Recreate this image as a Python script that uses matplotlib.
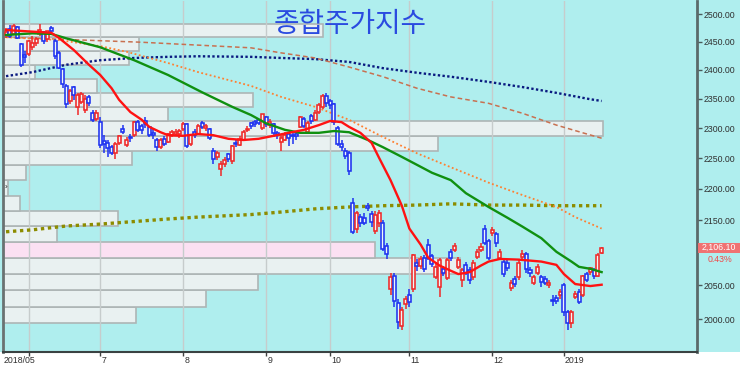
import numpy as np
import matplotlib
matplotlib.use("Agg")
import matplotlib.pyplot as plt
import matplotlib.transforms as mtransforms
from matplotlib.patches import Rectangle
from matplotlib.ticker import FixedLocator, NullLocator, NullFormatter

plt.rcParams['font.family'] = ['Liberation Sans', 'Noto Sans CJK KR', 'DejaVu Sans']

# ---------------- data ----------------
title = "종합주가지수"

opens = [2462, 2472, 2464, 2476, 2446, 2427, 2428, 2440, 2447, 2463,
         2468, 2455, 2474, 2452, 2430, 2402, 2372, 2346, 2370, 2335,
         2345, 2330, 2352, 2325, 2315, 2310, 2278, 2275, 2268, 2258,
         2275, 2298, 2272, 2285, 2288, 2310, 2303, 2312, 2302, 2292,
         2280, 2268, 2282, 2277, 2288, 2290, 2290, 2298, 2306, 2273,
         2294, 2290, 2308, 2300, 2298, 2262, 2252, 2232, 2240, 2256,
         2245, 2275, 2272, 2280, 2296, 2308, 2310, 2313, 2300, 2318,
         2305, 2306, 2292, 2276, 2280, 2290, 2288, 2290, 2302, 2315,
         2294, 2320, 2314, 2327, 2335, 2354, 2346, 2340, 2300, 2273,
         2262, 2258, 2178, 2137, 2155, 2154, 2172, 2160, 2133, 2145,
         2146, 2110, 2045, 2064, 2024, 1990, 2022, 2035, 2045, 2084,
         2080, 2092, 2112, 2094, 2063, 2048, 2074, 2061, 2101, 2104,
         2078, 2058, 2081, 2073, 2062, 2093, 2103, 2136, 2118, 2130,
         2128, 2091, 2086, 2084, 2046, 2060, 2062, 2093, 2098, 2073,
         2053, 2069, 2062, 2060, 2051, 2028, 2031, 2036, 2051, 2010,
         1994, 2033, 2040, 2035, 2067, 2070, 2073, 2064, 2099]
highs = [2475, 2480, 2482, 2479, 2448, 2433, 2453, 2460, 2458, 2482,
         2470, 2470, 2478, 2454, 2433, 2404, 2375, 2366, 2372, 2360,
         2362, 2356, 2356, 2330, 2330, 2318, 2288, 2280, 2272, 2276,
         2288, 2305, 2285, 2290, 2312, 2313, 2306, 2318, 2304, 2298,
         2283, 2283, 2286, 2292, 2297, 2298, 2299, 2310, 2308, 2290,
         2298, 2306, 2312, 2307, 2300, 2266, 2262, 2245, 2252, 2258,
         2272, 2280, 2286, 2296, 2303, 2310, 2313, 2316, 2324, 2320,
         2315, 2308, 2295, 2290, 2293, 2293, 2291, 2295, 2320, 2318,
         2312, 2324, 2330, 2342, 2358, 2360, 2350, 2342, 2303, 2280,
         2266, 2262, 2185, 2165, 2160, 2162, 2178, 2164, 2164, 2166,
         2150, 2114, 2068, 2068, 2030, 2018, 2034, 2045, 2098, 2090,
         2095, 2096, 2120, 2098, 2085, 2092, 2080, 2092, 2106, 2114,
         2093, 2076, 2085, 2077, 2088, 2106, 2114, 2142, 2120, 2140,
         2132, 2106, 2090, 2088, 2058, 2064, 2090, 2104, 2100, 2078,
         2066, 2082, 2066, 2064, 2058, 2035, 2036, 2044, 2053, 2014,
         2014, 2042, 2044, 2066, 2070, 2078, 2076, 2099, 2109]
lows = [2457, 2456, 2462, 2454, 2405, 2412, 2424, 2436, 2443, 2460,
        2446, 2450, 2465, 2420, 2401, 2369, 2334, 2340, 2348, 2322,
        2340, 2325, 2338, 2310, 2312, 2266, 2258, 2252, 2255, 2248,
        2272, 2290, 2268, 2276, 2285, 2293, 2290, 2300, 2285, 2282,
        2262, 2265, 2270, 2275, 2285, 2286, 2284, 2295, 2266, 2270,
        2283, 2288, 2298, 2295, 2280, 2240, 2247, 2220, 2236, 2243,
        2240, 2268, 2270, 2278, 2293, 2298, 2302, 2305, 2296, 2302,
        2300, 2285, 2282, 2262, 2278, 2270, 2274, 2280, 2300, 2300,
        2290, 2306, 2312, 2324, 2332, 2336, 2333, 2305, 2270, 2262,
        2248, 2222, 2128, 2130, 2140, 2142, 2165, 2140, 2128, 2140,
        2102, 2090, 2036, 2018, 1986, 1984, 2015, 2018, 2040, 2072,
        2075, 2070, 2088, 2078, 2060, 2032, 2064, 2058, 2087, 2100,
        2074, 2047, 2065, 2052, 2058, 2090, 2100, 2112, 2088, 2126,
        2108, 2088, 2063, 2072, 2042, 2048, 2058, 2088, 2068, 2062,
        2050, 2066, 2048, 2050, 2046, 2020, 2022, 2030, 2005, 1984,
        1987, 2030, 2022, 2032, 2055, 2066, 2060, 2062, 2097]
closes = [2467, 2461, 2479, 2457, 2409, 2423, 2451, 2447, 2454, 2471,
          2452, 2469, 2469, 2424, 2404, 2376, 2340, 2363, 2357, 2357,
          2358, 2350, 2342, 2314, 2326, 2272, 2273, 2266, 2258, 2273,
          2286, 2294, 2280, 2284, 2311, 2296, 2297, 2306, 2289, 2289,
          2269, 2280, 2273, 2290, 2294, 2293, 2295, 2307, 2270, 2288,
          2288, 2304, 2302, 2304, 2283, 2249, 2259, 2241, 2247, 2248,
          2270, 2273, 2282, 2294, 2299, 2303, 2307, 2309, 2323, 2307,
          2311, 2291, 2288, 2284, 2289, 2283, 2286, 2286, 2318, 2303,
          2309, 2312, 2325, 2339, 2355, 2343, 2339, 2310, 2274, 2268,
          2254, 2229, 2132, 2161, 2146, 2146, 2170, 2148, 2158, 2162,
          2106, 2098, 2063, 2027, 1996, 2014, 2030, 2025, 2096, 2080,
          2090, 2075, 2092, 2083, 2078, 2088, 2069, 2088, 2091, 2110,
          2089, 2073, 2069, 2058, 2084, 2101, 2109, 2115, 2092, 2135,
          2115, 2101, 2067, 2076, 2053, 2052, 2084, 2098, 2074, 2069,
          2062, 2078, 2055, 2053, 2054, 2027, 2027, 2040, 2010, 1994,
          2010, 2037, 2025, 2064, 2058, 2076, 2064, 2096, 2106.10]

change_pct = "0.43%"

month_tick_idx = [6, 25, 47, 69, 86, 107, 129, 148]
month_tick_labels = ['2018/05', '7', '8', '9', '10', '11', '12', '2019']

price_ticks = [2000, 2050, 2150, 2200, 2250, 2300, 2350, 2400, 2450, 2500]

ma_red_idx = [0, 12, 14, 18, 22, 25, 28, 30, 33, 36, 38, 41, 43, 47, 51, 55, 59, 63, 67, 71,
              75, 79, 83, 86, 89, 91, 94, 97, 99, 102, 105, 107, 110, 112, 115, 118, 120,
              123, 126, 128, 131, 136, 142, 146, 148, 151, 155, 158]
ma_red_val = [2471, 2466, 2457, 2435, 2409, 2391, 2368, 2348, 2327, 2314, 2302, 2293, 2288,
              2287, 2290, 2288, 2282, 2280, 2282, 2287, 2292, 2297, 2305, 2312, 2310, 2302,
              2292, 2275, 2250, 2214, 2173, 2137, 2112, 2092, 2080, 2072, 2067, 2070, 2080,
              2086, 2090, 2089, 2086, 2081, 2067, 2052, 2049, 2051]
ma_green_idx = [0, 7, 12, 16, 25, 34, 43, 52, 60, 65, 69, 74, 78, 83, 87, 91, 96, 100, 105,
                109, 113, 118, 122, 128, 133, 137, 142, 146, 150, 152, 155, 158]
ma_green_val = [2462, 2465, 2464, 2456, 2440, 2417, 2391, 2361, 2336, 2322, 2308, 2297, 2292,
                2292, 2295, 2293, 2280, 2268, 2252, 2239, 2226, 2214, 2193, 2171, 2154, 2140,
                2122, 2101, 2086, 2078, 2075, 2070]
ma_orange_idx = [0, 14, 25, 32, 43, 51, 65, 73, 82, 91, 100, 109, 118, 128, 137, 146, 151, 158]
ma_orange_val = [2458, 2453, 2442, 2432, 2412, 2396, 2372, 2353, 2336, 2314, 2285, 2258, 2235,
                 2210, 2190, 2171, 2155, 2137]
ma_brown_idx = [0, 36, 65, 73, 82, 91, 100, 109, 118, 128, 137, 146, 153, 158]
ma_brown_val = [2458, 2449, 2439, 2430, 2421, 2405, 2388, 2368, 2353, 2342, 2325, 2305, 2292, 2283]
ma_navy_idx = [0, 7, 16, 25, 34, 43, 51, 65, 73, 82, 91, 100, 109, 118, 128, 137, 146, 155, 158]
ma_navy_val = [2389, 2396, 2409, 2417, 2421, 2423, 2424, 2423, 2421, 2419, 2414, 2403, 2395,
               2388, 2379, 2370, 2360, 2349, 2346]
ma_olive_idx = [0, 7, 16, 25, 34, 43, 51, 65, 73, 82, 91, 100, 109, 118, 128, 137, 146, 158]
ma_olive_val = [2132, 2135, 2141, 2144, 2148, 2152, 2155, 2159, 2163, 2168, 2171, 2173, 2174,
                2176, 2174, 2174, 2173, 2173]

# volume-by-price profile (bottom bin to top bin), relative units
profile_low, profile_high = 1994.0, 2482.0
profile_volume = [133, 203, 255, 457, 372, 54, 115, 17, 5, 23,
                  129, 435, 600, 165, 250, 94, 32, 126, 136, 320]

# ---------------- figure ----------------
W, H = 740, 369
BG = '#AFEEEE'
fig = plt.figure(figsize=(W / 100, H / 100), dpi=100)
fig.patch.set_facecolor(BG)
fig.patches.append(Rectangle((0, 0), 1, 17 / H, transform=fig.transFigure,
                             fc='white', ec='none', zorder=-10))
ax = fig.add_axes([3 / W, 17 / H, 694 / W, 351 / H])
ax.set_facecolor(BG)
ax.set_yscale('log')
ax.set_xlim(-0.8, 183.3)
ax.set_ylim(1952.5, 2524)

# volume profile
trans = mtransforms.blended_transform_factory(ax.transAxes, ax.transData)
edges = np.linspace(profile_low, profile_high, len(profile_volume) + 1)
vmax = max(profile_volume)
for i, v in enumerate(profile_volume):
    frac = v / vmax * 0.864
    is_cur = edges[i] <= closes[-1] < edges[i + 1]
    fc = '#FBE0F2' if is_cur else '#E9F1F1'
    ax.add_patch(Rectangle((0, edges[i]), frac, edges[i + 1] - edges[i], transform=trans,
                           fc=fc, ec='#ADB5B5', lw=1.2, zorder=1))
ax.text(0.003, (edges[8] + edges[9]) / 2, '›', transform=trans, fontsize=6,
        va='center', ha='left', color='#202020', zorder=2)

# grid
for t in month_tick_idx:
    ax.axvline(t, color='#C6CCCC', lw=1, zorder=1.5)

# long moving averages
ax.plot(ma_olive_idx, ma_olive_val, color='#8C8C00', lw=2.4, ls=(0, (1, 1.1)), zorder=3)
ax.plot(ma_navy_idx, ma_navy_val, color='#0A1A80', lw=1.7, ls=(0, (1, 1)), zorder=3)
ax.plot(ma_brown_idx, ma_brown_val, color='#C87050', lw=1.1, ls=(0, (3, 2)), zorder=3)
ax.plot(ma_orange_idx, ma_orange_val, color='#FF7F30', lw=1.3, ls=(0, (1, 1.4)), zorder=3)

# candles
x = np.arange(len(closes))
o = np.array(opens, float)
h = np.array(highs, float)
l = np.array(lows, float)
c = np.array(closes, float)
up = c >= o
col = np.where(up, '#F02828', '#1E32F0')
ax.vlines(x, l, h, colors=col, lw=1.1, zorder=4)
body_h = np.maximum(np.abs(c - o), 0.6)
ax.bar(x, body_h, bottom=np.minimum(o, c), width=0.8, color='#EEF6F6',
       edgecolor=col, linewidth=1.15, zorder=4.2)

# short moving averages
ax.plot(ma_green_idx, ma_green_val, color='#109010', lw=1.7, zorder=5)
ax.plot(ma_red_idx, ma_red_val, color='#FF1212', lw=1.7, zorder=5.1)

# axes styling
ax.spines['top'].set_visible(False)
ax.spines['right'].set_color('#5A6A6A')
ax.spines['right'].set_linewidth(2)
ax.spines['left'].set_color('#6A7272')
ax.spines['left'].set_linewidth(2)
ax.spines['bottom'].set_color('#3A4242')
ax.spines['bottom'].set_linewidth(1.5)

ax.yaxis.tick_right()
ax.yaxis.set_major_locator(FixedLocator(price_ticks))
ax.yaxis.set_minor_locator(NullLocator())
ax.yaxis.set_minor_formatter(NullFormatter())
ax.set_yticklabels([f'{v:.2f}' for v in price_ticks])
ax.tick_params(axis='y', which='major', direction='out', length=3.5, width=1,
               color='#4A5A5A', labelsize=6.3, pad=1.5, labelcolor='#303030')

ax.set_xticks(month_tick_idx)
ax.set_xticklabels([])
ax.tick_params(axis='x', direction='out', length=3, width=1, color='#404040')
xt = mtransforms.blended_transform_factory(ax.transData, ax.transAxes)
for k, (t, lab) in enumerate(zip(month_tick_idx, month_tick_labels)):
    xpos = ax.get_xlim()[0] + 0.1 if k == 0 else t + 0.3
    ax.text(xpos, -0.012, lab, transform=xt, ha='left', va='top', fontsize=6.3,
            color='#303030', clip_on=False)

# title
fig.text(350 / W, 1 - 23.5 / H, title, fontsize=20, color='#2A4BE0', ha='center',
         va='center', family=['Noto Sans CJK KR', 'DejaVu Sans'], zorder=10)

# current price label
fig.patches.append(Rectangle((698 / W, 1 - 252.5 / H), 42 / W, 10 / H, transform=fig.transFigure,
                             fc='#F07272', ec='none', zorder=5))
fig.text(719 / W, 1 - 247.5 / H, f'{closes[-1]:,.2f}', fontsize=6.3, color='white',
         ha='center', va='center', zorder=6)
fig.text(720 / W, 1 - 259.5 / H, change_pct, fontsize=6.3, color='#F04848',
         ha='center', va='center', zorder=6)

fig.savefig('out.png', dpi=100, facecolor=fig.get_facecolor())
